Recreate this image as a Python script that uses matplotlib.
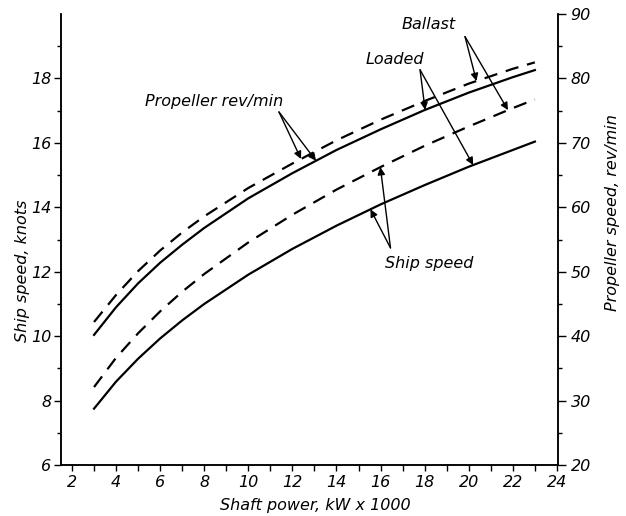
import matplotlib
matplotlib.use('Agg')
import matplotlib.pyplot as plt
import numpy as np
from matplotlib.ticker import MultipleLocator

# shaft power, kW x 1000
power = [3, 4, 5, 6, 7, 8, 10, 12, 14, 16, 18, 20, 22, 23]

# ship speed, knots
speed_loaded = [7.75, 8.59, 9.30, 9.93, 10.49, 11.00, 11.91, 12.71, 13.43, 14.09, 14.69, 15.26, 15.78, 16.04]
speed_ballast = [8.42, 9.33, 10.09, 10.77, 11.38, 11.93, 12.91, 13.77, 14.55, 15.25, 15.91, 16.51, 17.08, 17.35]

# propeller speed, rev/min
rpm_loaded = [40.2, 44.5, 48.2, 51.4, 54.2, 56.8, 61.4, 65.3, 68.9, 72.1, 75.1, 77.8, 80.2, 81.3]
rpm_ballast = [42.2, 46.4, 50.1, 53.3, 56.1, 58.6, 63.0, 66.8, 70.4, 73.6, 76.5, 79.2, 81.5, 82.5]

x_ticks = list(range(2, 25, 2))
speed_ticks = list(range(6, 19, 2))
rpm_ticks = list(range(20, 91, 10))

plt.rcParams['font.family'] = 'DejaVu Sans'
plt.rcParams['font.style'] = 'italic'
plt.rcParams['font.size'] = 11.5

fig = plt.figure(figsize=(6.26, 5.16), dpi=100)
ax = fig.add_axes([0.0974, 0.0988, 0.794, 0.874])
ax2 = ax.twinx()

lw = 1.6
ax.plot(power, speed_loaded, '-', color='black', lw=lw)
ax.plot(power, speed_ballast, color='black', lw=lw, dashes=(6, 4))
ax2.plot(power, rpm_loaded, '-', color='black', lw=lw)
ax2.plot(power, rpm_ballast, color='black', lw=lw, dashes=(6, 4))

ax.set_xlim(1.5, 24.05)
ax.set_ylim(6, 20)
ax2.set_ylim(20, 90)

ax.set_xticks(x_ticks)
ax.xaxis.set_minor_locator(MultipleLocator(1))
ax.set_yticks(speed_ticks)
ax.set_yticks(list(range(7, 20, 2)), minor=True)
ax2.set_yticks(rpm_ticks)
ax2.set_yticks(list(range(25, 90, 10)), minor=True)

for a in (ax, ax2):
    a.spines['top'].set_visible(False)
    for s in a.spines.values():
        s.set_linewidth(1.1)
ax.tick_params(axis='x', which='both', length=4, width=1.0, pad=3)
ax.tick_params(axis='y', which='major', length=5, width=1.0, pad=2)
ax.tick_params(axis='y', which='minor', length=3, width=1.0)
ax2.tick_params(axis='y', which='major', length=6, width=1.0, pad=3)
ax2.tick_params(axis='y', which='minor', length=3, width=1.0)

ax.set_xlabel('Shaft power, kW x 1000')
ax.xaxis.set_label_coords(0.511, -0.074)
ax.set_ylabel('Ship speed, knots')
ax.yaxis.set_label_coords(-0.063, 0.43)
ax2.set_ylabel('Propeller speed, rev/min')
ax2.yaxis.set_label_coords(1.094, 0.56)


def point(x, xs, ys):
    return (x, float(np.interp(x, xs, ys)))


def arrows(label, text_xy, start_xy, targets):
    ax.text(text_xy[0], text_xy[1], label, ha='center', va='center', fontsize=11.5)
    for a, x, ys in targets:
        ax.annotate('', xy=point(x, power, ys), xycoords=a.transData,
                    xytext=start_xy, textcoords=ax.transData,
                    arrowprops=dict(arrowstyle='-|>', color='black', lw=1.0,
                                    mutation_scale=11, shrinkA=0, shrinkB=0))


arrows('Propeller rev/min', (8.46, 17.30), (11.39, 16.96),
       [(ax2, 12.39, rpm_ballast), (ax2, 13.07, rpm_loaded)])
arrows('Loaded', (16.63, 18.58), (17.79, 18.27),
       [(ax2, 18.02, rpm_loaded), (ax, 20.2, speed_loaded)])
arrows('Ballast', (18.2, 19.66), (19.83, 19.30),
       [(ax2, 20.35, rpm_ballast), (ax, 21.78, speed_ballast)])
arrows('Ship speed', (18.2, 12.27), (16.45, 12.74),
       [(ax, 15.99, speed_ballast), (ax, 15.54, speed_loaded)])

fig.savefig('out.png', dpi=100)
